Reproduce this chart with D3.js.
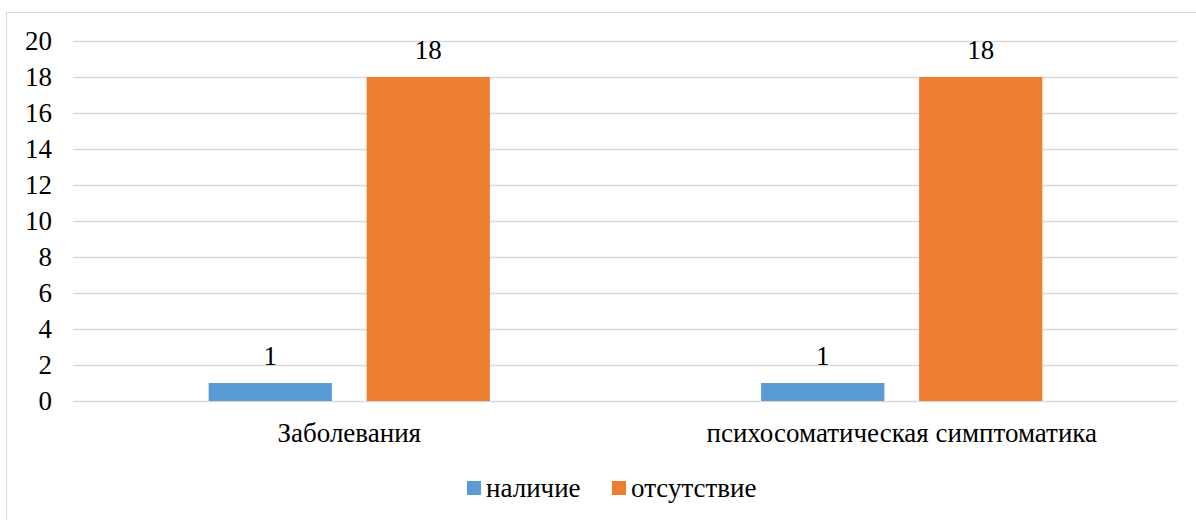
<!DOCTYPE html>
<html><head><meta charset="utf-8">
<script src="https://cdn.jsdelivr.net/npm/d3@7"></script>
<style>body{margin:0;background:#fff}svg{display:block}</style>
</head><body>
<svg id="c" width="1196" height="520"></svg>
<script>
const categories = ["Заболевания", "психосоматическая симптоматика"];
const seriesNames = ["наличие", "отсутствие"];
const nalichie = [1, 1];
const otsutstvie = [18, 18];
const yTicks = [0, 2, 4, 6, 8, 10, 12, 14, 16, 18, 20];
const colors = ["#5b9bd5", "#ed7d31"];
const FONT = '"Liberation Serif"';
const FS = "27px";

const svg = d3.select("#c");
const W = 1196, H = 520;
svg.append("rect").attr("x", 6.5).attr("y", 12.5).attr("width", W).attr("height", H)
  .attr("fill", "#fff").attr("stroke", "#d9d9d9").attr("stroke-width", 1);

const pLeft = 73, pRight = 1178, pTop = 41, pBottom = 401;
const y = d3.scaleLinear().domain([0, 20]).range([pBottom, pTop]);
const x0 = d3.scaleBand().domain(categories).range([pLeft, pRight]).paddingInner(0.491).paddingOuter(0.2455);
const x1 = d3.scaleBand().domain(seriesNames).range([0, x0.bandwidth()]).paddingInner(0.22);

const grid = svg.append("g");
grid.selectAll("line").data(yTicks).join("line")
  .attr("x1", pLeft).attr("x2", pRight)
  .attr("y1", d => Math.round(y(d)) + 0.5).attr("y2", d => Math.round(y(d)) + 0.5)
  .attr("stroke", "#d9d9d9").attr("stroke-width", 1.5);

const yAxis = d3.axisLeft(y).tickValues(yTicks).tickSize(0).tickPadding(0);
const ya = svg.append("g").attr("transform", `translate(52,0)`).call(yAxis);
ya.select(".domain").remove();
ya.selectAll("text").style("font-family", FONT).style("font-size", FS).attr("fill", "#000").attr("dy", "0.3em");

const xAxis = d3.axisBottom(x0).tickSize(0).tickPadding(0);
const xa = svg.append("g").attr("transform", `translate(0,442)`).call(xAxis);
xa.select(".domain").remove();
xa.selectAll("text").style("font-family", FONT).style("font-size", FS).attr("fill", "#000").attr("dy", 0).attr("y", 0);

const data = categories.map((c, i) => ({ c, vals: [nalichie[i], otsutstvie[i]] }));
const groups = svg.append("g").selectAll("g").data(data).join("g")
  .attr("transform", d => `translate(${x0(d.c)},0)`);
groups.selectAll("rect").data(d => d.vals.map((v, j) => ({ v, s: seriesNames[j], j }))).join("rect")
  .attr("x", d => x1(d.s)).attr("width", x1.bandwidth())
  .attr("y", d => y(d.v)).attr("height", d => y(0) - y(d.v))
  .attr("fill", d => colors[d.j]);
groups.selectAll("text").data(d => d.vals.map((v, j) => ({ v, s: seriesNames[j], j }))).join("text")
  .attr("x", d => x1(d.s) + x1.bandwidth() / 2).attr("y", d => y(d.v) - 18)
  .attr("text-anchor", "middle").attr("fill", "#000")
  .style("font-family", FONT).style("font-size", FS).text(d => d.v);

const legend = svg.append("g");
const lx = [467, 612];
seriesNames.forEach((s, i) => {
  legend.append("rect").attr("x", lx[i]).attr("y", 481).attr("width", 14).attr("height", 14).attr("fill", colors[i]);
  legend.append("text").attr("x", lx[i] + 19).attr("y", 497).attr("fill", "#000")
    .style("font-family", FONT).style("font-size", FS).text(s);
});
</script>
</body></html>
